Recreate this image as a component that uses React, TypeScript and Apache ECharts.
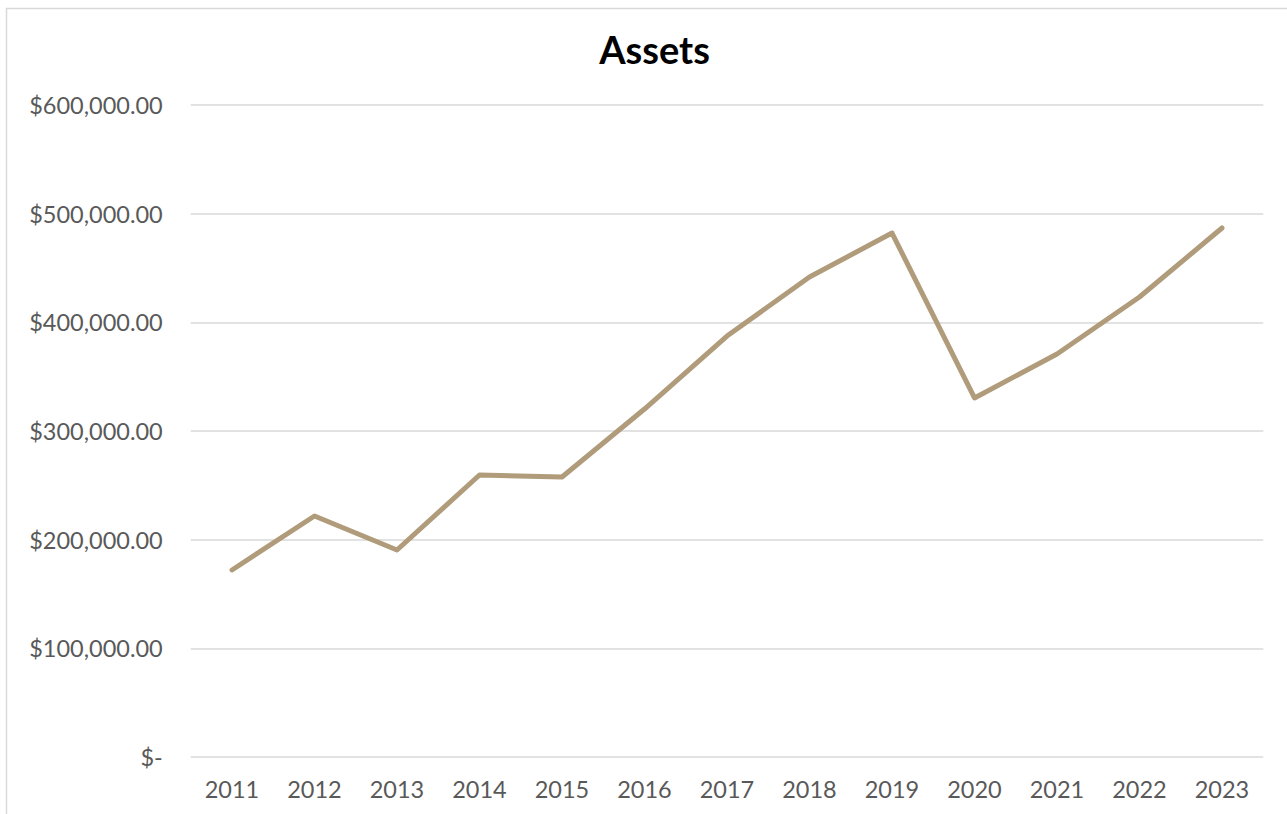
import React, { useEffect, useRef } from "react";
import * as echarts from "echarts";

const years = ["2011", "2012", "2013", "2014", "2015", "2016", "2017", "2018", "2019", "2020", "2021", "2022", "2023"];
const assets = [172100, 221800, 190500, 259500, 257700, 320200, 387400, 441700, 482200, 330400, 370900, 423300, 486800];
const yTicks = [0, 100000, 200000, 300000, 400000, 500000, 600000];
const titleText = "Assets";

function fmt(v: number): string {
  if (v === 0) return "$-";
  return "$" + v.toLocaleString("en-US", { minimumFractionDigits: 2, maximumFractionDigits: 2 });
}

export default function App() {
  const ref = useRef<HTMLDivElement>(null);
  useEffect(() => {
    if (!ref.current) return;
    const chart = echarts.init(ref.current, null, { renderer: "svg" });
    chart.setOption({
      animation: false,
      backgroundColor: "#ffffff",
      graphic: [
        {
          type: "rect",
          shape: { x: 6.5, y: 8.5, width: 1300, height: 900 },
          style: { fill: "none", stroke: "#d9d9d9", lineWidth: 1.5 },
          silent: true,
        },
        {
          type: "text",
          x: 654.5,
          y: 49,
          style: {
            text: titleText,
            fontFamily: "Lato",
            fontWeight: "bold",
            fontSize: 38,
            fill: "#000000",
            textAlign: "center",
            textVerticalAlign: "middle",
          },
          silent: true,
        },
      ],
      grid: { left: 190.75, right: 23.75, top: 105, bottom: 57, containLabel: false },
      xAxis: {
        type: "category",
        data: years,
        boundaryGap: true,
        axisLine: { show: false },
        axisTick: { show: false },
        axisLabel: { fontFamily: "Lato", fontSize: 23.5, color: "#595959", margin: 20 },
      },
      yAxis: {
        type: "value",
        min: yTicks[0],
        max: yTicks[yTicks.length - 1],
        interval: 100000,
        axisLine: { show: false },
        axisTick: { show: false },
        splitLine: { lineStyle: { color: "#d9d9d9", width: 1.5 } },
        axisLabel: { fontFamily: "Lato", fontSize: 23.5, color: "#595959", margin: 28, formatter: (v: number) => fmt(v) },
      },
      series: [
        {
          type: "line",
          data: assets,
          symbol: "none",
          lineStyle: { color: "#b09b7b", width: 5, cap: "round", join: "round" },
        },
      ],
    });
    return () => chart.dispose();
  }, []);
  return <div ref={ref} style={{ position: "absolute", left: 0, top: 0, width: 1287, height: 814 }} />;
}
